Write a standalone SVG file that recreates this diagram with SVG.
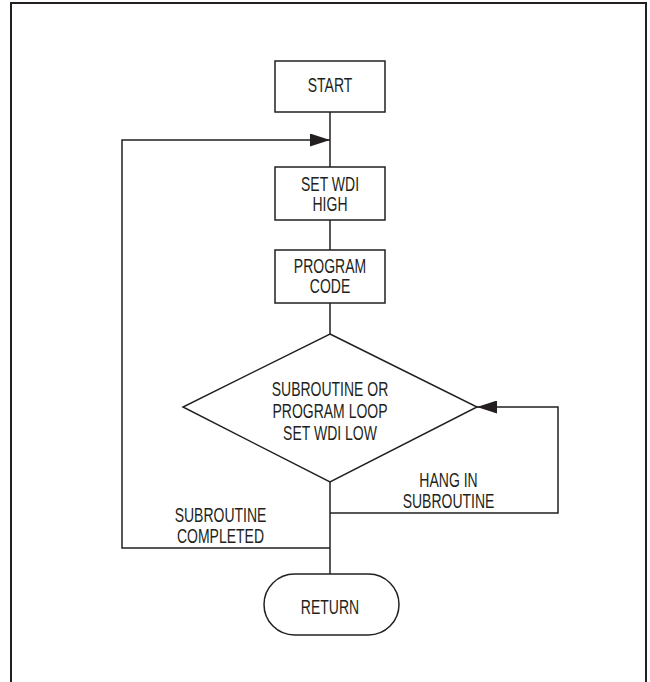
<svg xmlns="http://www.w3.org/2000/svg" width="650" height="682" viewBox="0 0 650 682">
<style>
.shape{fill:#fff;stroke:#231f20;stroke-width:1.5}
.line{fill:none;stroke:#231f20;stroke-width:1.5}
.t{font-family:"Liberation Sans",Arial,sans-serif;font-size:20px;fill:#231f20;text-anchor:middle}
</style>
<defs>
<marker id="arr" viewBox="0 0 20 13" refX="20" refY="6.5" markerWidth="20" markerHeight="13" markerUnits="userSpaceOnUse" orient="auto">
<path d="M0,0 L20,6.5 L0,13 Z" fill="#231f20"/>
</marker>
</defs>
<rect width="650" height="682" fill="#fff"/>
<path d="M11,690 V3 H646 V690" fill="none" stroke="#231f20" stroke-width="2"/>
<g id="connectors">
<line class="line" x1="330" y1="112" x2="330" y2="167"/>
<line class="line" x1="330" y1="220" x2="330" y2="250"/>
<line class="line" x1="330" y1="303" x2="330" y2="334"/>
<line class="line" x1="330" y1="482" x2="330" y2="574"/>
<polyline class="line" points="330,548 122,548 122,140 330,140" marker-end="url(#arr)"/>
<polyline class="line" points="330,513 558,513 558,407 477,407" marker-end="url(#arr)"/>
<text class="t" transform="translate(448.5 487) scale(0.7 1)">HANG IN</text>
<text class="t" transform="translate(448.5 508) scale(0.7 1)">SUBROUTINE</text>
<text class="t" transform="translate(220.5 522) scale(0.7 1)">SUBROUTINE</text>
<text class="t" transform="translate(220.5 543) scale(0.7 1)">COMPLETED</text>
</g>
<g id="start">
<rect class="shape" x="275" y="61" width="110" height="51"/>
<text class="t" transform="translate(330 92) scale(0.7 1)">START</text>
</g>
<g id="setwdihigh">
<rect class="shape" x="275" y="167" width="110" height="53"/>
<text class="t" transform="translate(330 191) scale(0.7 1)">SET WDI</text>
<text class="t" transform="translate(330 211) scale(0.7 1)">HIGH</text>
</g>
<g id="programcode">
<rect class="shape" x="275" y="250" width="110" height="53"/>
<text class="t" transform="translate(330 273) scale(0.7 1)">PROGRAM</text>
<text class="t" transform="translate(330 293) scale(0.7 1)">CODE</text>
</g>
<g id="decision">
<polygon class="shape" points="330,334 477,407 330,482 183,407"/>
<text class="t" transform="translate(330 396) scale(0.7 1)">SUBROUTINE OR</text>
<text class="t" transform="translate(330 418) scale(0.7 1)">PROGRAM LOOP</text>
<text class="t" transform="translate(330 440) scale(0.7 1)">SET WDI LOW</text>
</g>
<g id="return">
<rect class="shape" x="264" y="574" width="135" height="61" rx="30.5" ry="30.5"/>
<text class="t" transform="translate(330 614) scale(0.7 1)">RETURN</text>
</g>
</svg>
